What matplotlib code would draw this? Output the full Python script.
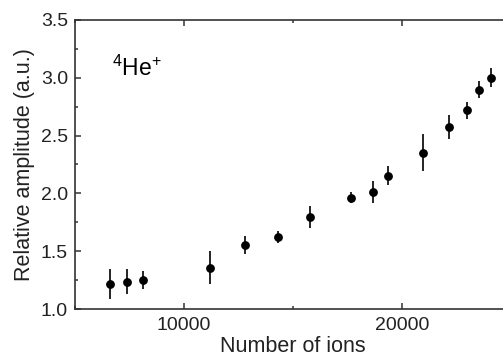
import matplotlib.pyplot as plt
from matplotlib.ticker import MultipleLocator

# data
nIons = [6600, 7400, 8100, 11200, 12800, 14300, 15800, 17650, 18670,
         19370, 20950, 22160, 22980, 23520, 24070]
amplitude = [1.22, 1.236, 1.25, 1.357, 1.554, 1.625, 1.793, 1.963, 2.012,
             2.153, 2.352, 2.574, 2.719, 2.897, 2.998]
amplitudeErr = [0.13, 0.11, 0.08, 0.145, 0.08, 0.05, 0.095, 0.05, 0.095,
                0.085, 0.157, 0.1, 0.075, 0.076, 0.082]
yTicks = [1.0, 1.5, 2.0, 2.5, 3.0, 3.5]

plt.rcParams['font.family'] = ['Liberation Sans', 'DejaVu Sans']
plt.rcParams['mathtext.fontset'] = 'custom'
plt.rcParams['mathtext.rm'] = 'Liberation Sans'
plt.rcParams['mathtext.it'] = 'Liberation Sans:italic'
plt.rcParams['mathtext.bf'] = 'Liberation Sans:bold'

fig = plt.figure(figsize=(5.03, 3.61), dpi=100)
ax = fig.add_axes([0.149, 0.144, 0.867, 0.801])

ax.errorbar(nIons, amplitude, yerr=amplitudeErr, fmt='o', color='black',
            markersize=5.3, elinewidth=1.2, capsize=0)

ax.set_xlim(5000, 25000)
ax.set_ylim(1.0, 3.5)
ax.xaxis.set_major_locator(MultipleLocator(10000))
ax.xaxis.set_minor_locator(MultipleLocator(5000))
ax.yaxis.set_minor_locator(MultipleLocator(0.25))
ax.set_yticks(yTicks)
ax.set_yticklabels(['%.1f' % v for v in yTicks])

ax.tick_params(which='both', direction='in', top=True, right=False,
               labelsize=14, color='#333333', labelcolor='#222222')
ax.tick_params(which='major', length=4.3, width=1.1)
ax.tick_params(which='minor', length=2.2, width=1.1)
ax.tick_params(axis='y', pad=5)
ax.tick_params(axis='x', pad=6)
ax.spines['right'].set_visible(False)
for s in ['left', 'bottom', 'top']:
    ax.spines[s].set_color('#333333')
    ax.spines[s].set_linewidth(1.2)

ax.set_xlabel('Number of ions', fontsize=15.5, labelpad=1, color='#222222')
ax.set_ylabel('Relative amplitude (a.u.)', fontsize=15.5, labelpad=4,
              color='#222222')
ax.text(0.085, 0.806, r'$^{4}$He$^{+}$', transform=ax.transAxes,
        fontsize=16.5, va='baseline')

fig.savefig('out.png', dpi=100)
